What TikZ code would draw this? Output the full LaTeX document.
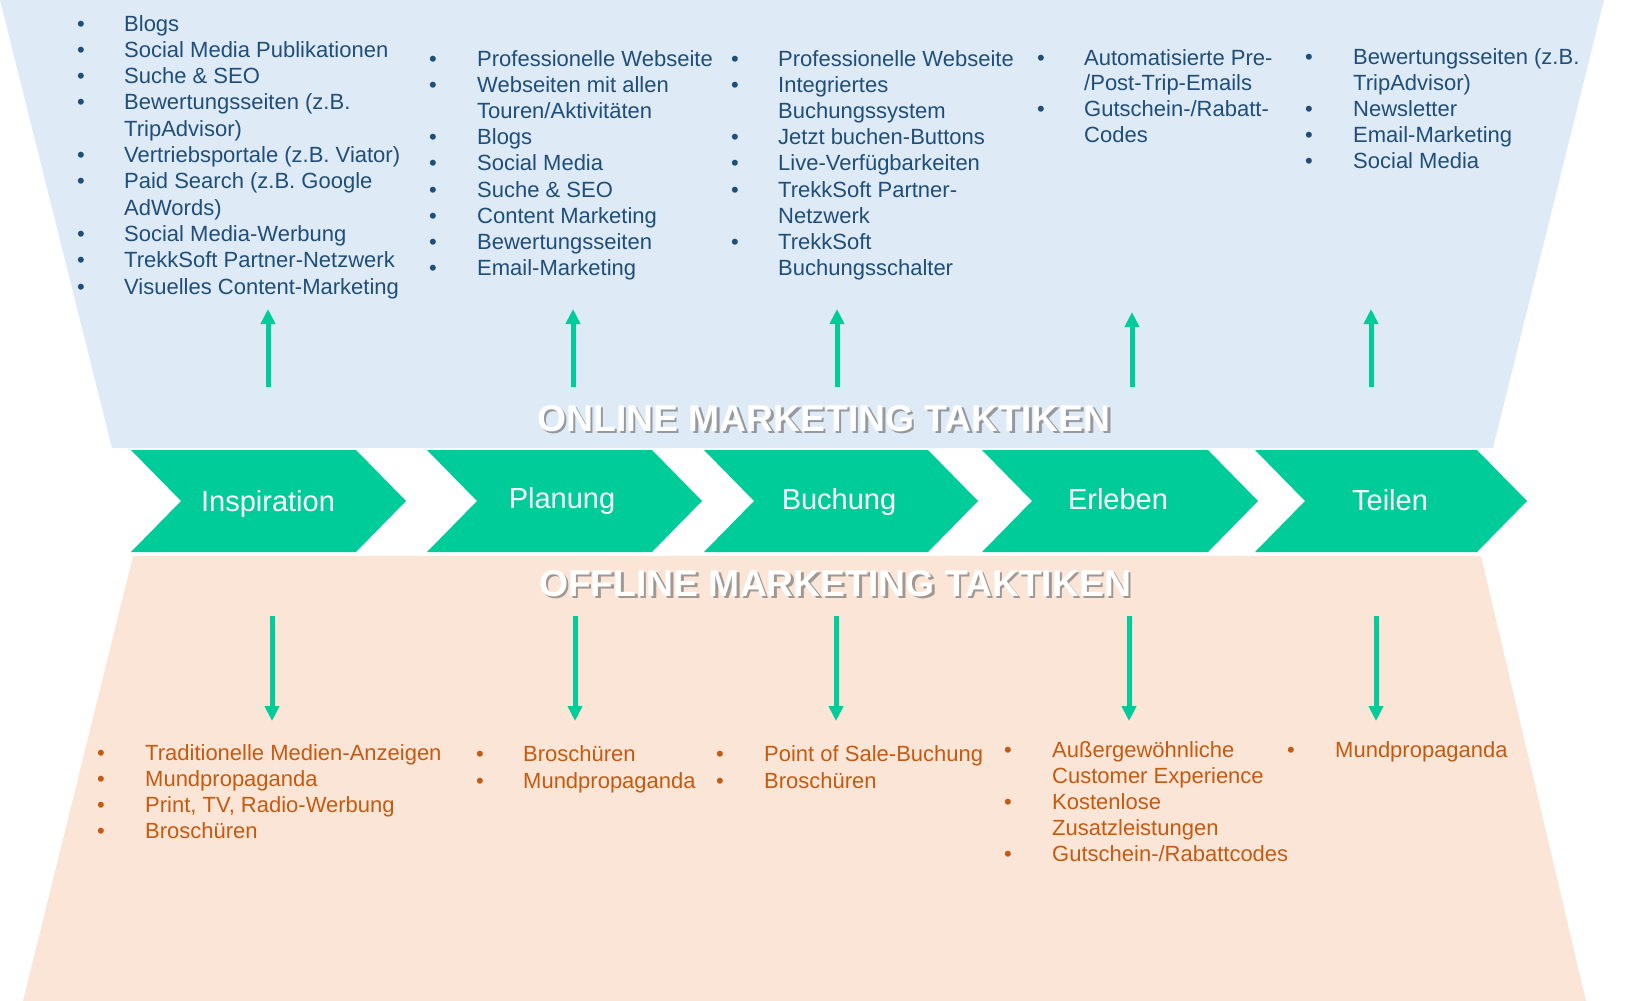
\documentclass[tikz,border=0pt]{standalone}
\usepackage{fontspec}
\setmainfont{Liberation Sans}
\usetikzlibrary{arrows.meta}
\definecolor{bluebg}{HTML}{DEEAF6}
\definecolor{peachbg}{HTML}{FBE5D6}
\definecolor{tgreen}{HTML}{00CC99}
\definecolor{tblue}{HTML}{1F4E79}
\definecolor{torange}{HTML}{C55A11}
\newcommand\onitem[5]{\node[bulon] (#1b) at (#2,#4) {•};\node[txton] (#1) at (#3,#4) {#5};}
\newcommand\oncont[4]{\node[txton] (#1) at (#2,#3) {#4};}
\newcommand\offitem[5]{\node[buloff] (#1b) at (#2,#4) {•};\node[txtoff] (#1) at (#3,#4) {#5};}
\newcommand\offcont[4]{\node[txtoff] (#1) at (#2,#3) {#4};}
\begin{document}
\begin{tikzpicture}[x=1pt,y=-1pt,
  txton/.style={anchor=base west,inner sep=0pt,text=tblue,font=\fontsize{22}{26}\selectfont},
  bulon/.style={anchor=base,inner sep=0pt,text=tblue,font=\fontsize{22}{26}\selectfont},
  txtoff/.style={anchor=base west,inner sep=0pt,text=torange,font=\fontsize{22}{26}\selectfont},
  buloff/.style={anchor=base,inner sep=0pt,text=torange,font=\fontsize{22}{26}\selectfont},
  chevlabel/.style={anchor=base,inner sep=0pt,text=white,font=\fontsize{29}{34}\selectfont},
  titletext/.style={anchor=base,inner sep=0pt,text=white,font=\bfseries\fontsize{37.3}{40}\selectfont},
  titleshadow/.style={anchor=base,inner sep=0pt,text=black!60,opacity=0.6,font=\bfseries\fontsize{37.3}{40}\selectfont},
  arr/.style={draw=tgreen,line width=5pt,-{Triangle[length=15pt,width=14pt]}},
  chevfill/.style={fill=tgreen}]
\fill[white] (0,0) rectangle (1634,1001);
\useasboundingbox (0,0) rectangle (1634,1001);
% backgrounds
\fill[bluebg] (0,0) -- (1604,0) -- (1493,448) -- (112,448) -- cycle;
\fill[peachbg] (133,556) -- (1481,556) -- (1586,1001) -- (23,1001) -- cycle;
% chevrons
\foreach \x/\w/\n/\lx/\lb/\t in {131/225/c1/268/511/Inspiration,427/225/c2/562/508/Planung,704/224/c3/839/509/Buchung,982/226/c4/1118/509/Erleben,1255/222/c5/1390/510/Teilen}{
  \fill[chevfill] (\x,450) -- (\x+\w,450) -- (\x+\w+50,501) -- (\x+\w,552) -- (\x,552) -- (\x+50,501) -- cycle;
  \node[chevlabel] (\n) at (\lx,\lb) {\t};
}
% titles
\node[titleshadow] (onS) at (826.5,433.5) {ONLINE MARKETING TAKTIKEN};
\node[titletext] (on) at (824,431) {ONLINE MARKETING TAKTIKEN};
\node[titleshadow] (offS) at (837.5,598.5) {OFFLINE MARKETING TAKTIKEN};
\node[titletext] (off) at (835,596) {OFFLINE MARKETING TAKTIKEN};
% arrows up
\foreach \i/\x/\t in {1/268/309,2/573/309,3/837/309,4/1132/312,5/1371/309}{
  \coordinate (ua\i s) at (\x,387);
  \coordinate (ua\i e) at (\x,\t);
  \draw[arr] (ua\i s) -- (ua\i e);
}
% arrows down
\foreach \i/\x in {1/272,2/575,3/836,4/1129,5/1376}{
  \coordinate (da\i s) at (\x,616);
  \coordinate (da\i e) at (\x,721);
  \draw[arr] (da\i s) -- (da\i e);
}
% online column 1
\onitem{a1}{81}{124}{31}{Blogs}
\onitem{a2}{81}{124}{57.3}{Social Media Publikationen}
\onitem{a3}{81}{124}{83.6}{Suche \& SEO}
\onitem{a4}{81}{124}{109.9}{Bewertungsseiten (z.B.}
\oncont{a4c}{124}{136.2}{TripAdvisor)}
\onitem{a5}{81}{124}{162.5}{Vertriebsportale (z.B. Viator)}
\onitem{a6}{81}{124}{188.8}{Paid Search (z.B. Google}
\oncont{a6c}{124}{215.1}{AdWords)}
\onitem{a7}{81}{124}{241.4}{Social Media-Werbung}
\onitem{a8}{81}{124}{267.7}{TrekkSoft Partner-Netzwerk}
\onitem{a9}{81}{124}{294}{Visuelles Content-Marketing}
% online column 2
\onitem{b1}{433}{477}{66}{Professionelle Webseite}
\onitem{b2}{433}{477}{92.2}{Webseiten mit allen}
\oncont{b2c}{477}{118.4}{Touren/Aktivitäten}
\onitem{b3}{433}{477}{144.6}{Blogs}
\onitem{b4}{433}{477}{170.8}{Social Media}
\onitem{b5}{433}{477}{197}{Suche \& SEO}
\onitem{b6}{433}{477}{223.2}{Content Marketing}
\onitem{b7}{433}{477}{249.4}{Bewertungsseiten}
\onitem{b8}{433}{477}{275.6}{Email-Marketing}
% online column 3
\onitem{c1i}{735}{778}{66}{Professionelle Webseite}
\onitem{c2i}{735}{778}{92.2}{Integriertes}
\oncont{c2c}{778}{118.4}{Buchungssystem}
\onitem{c3i}{735}{778}{144.6}{Jetzt buchen-Buttons}
\onitem{c4i}{735}{778}{170.8}{Live-Verfügbarkeiten}
\onitem{c5i}{735}{778}{197}{TrekkSoft Partner-}
\oncont{c5c}{778}{223.2}{Netzwerk}
\onitem{c6i}{735}{778}{249.4}{TrekkSoft}
\oncont{c6c}{778}{275.6}{Buchungsschalter}
% online column 4
\onitem{d1}{1041}{1084}{65}{Automatisierte Pre-}
\oncont{d1c}{1084}{90.8}{/Post-Trip-Emails}
\onitem{d2}{1041}{1084}{116.6}{Gutschein-/Rabatt-}
\oncont{d2c}{1084}{142.4}{Codes}
% online column 5
\onitem{e1}{1309}{1353}{64}{Bewertungsseiten (z.B.}
\oncont{e1c}{1353}{90}{TripAdvisor)}
\onitem{e2}{1309}{1353}{116}{Newsletter}
\onitem{e3}{1309}{1353}{142}{Email-Marketing}
\onitem{e4}{1309}{1353}{168}{Social Media}
% offline column 1
\offitem{f1}{101}{145}{760}{Traditionelle Medien-Anzeigen}
\offitem{f2}{101}{145}{786}{Mundpropaganda}
\offitem{f3}{101}{145}{812}{Print, TV, Radio-Werbung}
\offitem{f4}{101}{145}{838}{Broschüren}
% offline column 2
\offitem{g1}{480}{523}{761}{Broschüren}
\offitem{g2}{480}{523}{788}{Mundpropaganda}
% offline column 3
\offitem{h1}{720}{764}{761}{Point of Sale-Buchung}
\offitem{h2}{720}{764}{788}{Broschüren}
% offline column 4
\offitem{k1}{1008}{1052}{757}{Außergewöhnliche}
\offcont{k1c}{1052}{783}{Customer Experience}
\offitem{k2}{1008}{1052}{809}{Kostenlose}
\offcont{k2c}{1052}{835}{Zusatzleistungen}
\offitem{k3}{1008}{1052}{861}{Gutschein-/Rabattcodes}
% offline column 5
\offitem{m1}{1291}{1335}{757}{Mundpropaganda}
\end{tikzpicture}
\end{document}
